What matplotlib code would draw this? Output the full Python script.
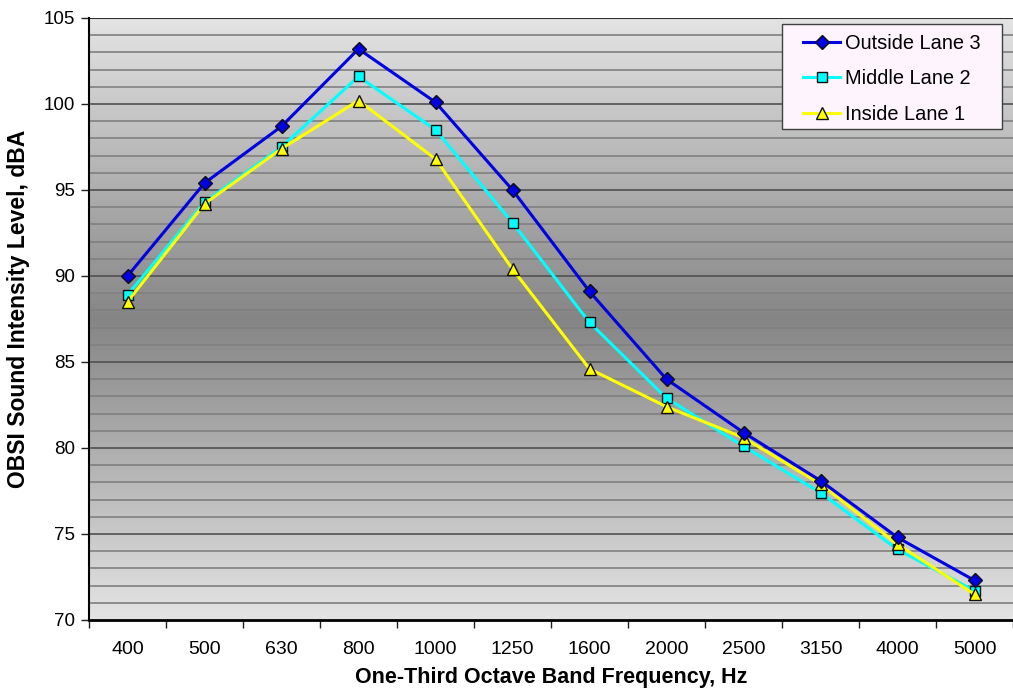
import numpy as np
import matplotlib
matplotlib.use("Agg")
import matplotlib.pyplot as plt
from matplotlib.colors import LinearSegmentedColormap
from matplotlib.patches import Rectangle

plt.rcParams['font.family'] = ['Liberation Sans', 'DejaVu Sans']

freqs = ['400', '500', '630', '800', '1000', '1250', '1600', '2000', '2500', '3150', '4000', '5000']
outside_lane3 = [90.0, 95.4, 98.7, 103.2, 100.1, 95.0, 89.1, 84.0, 80.9, 78.1, 74.8, 72.3]
middle_lane2 = [88.9, 94.3, 97.5, 101.6, 98.5, 93.1, 87.3, 82.9, 80.1, 77.4, 74.1, 71.7]
inside_lane1 = [88.5, 94.2, 97.4, 100.2, 96.8, 90.4, 84.6, 82.4, 80.6, 77.9, 74.4, 71.5]

W, H = 1013, 698
fig = plt.figure(figsize=(W / 100, H / 100), dpi=100)
ax = fig.add_axes([89 / W, 1 - 620 / H, 1 - 89 / W, (620 - 18) / H])

x = np.arange(len(freqs))
ax.set_xlim(-0.5, len(freqs) - 0.5)
ax.set_ylim(70, 105)

# gradient background, light at the edges, dark in the middle
cmap = LinearSegmentedColormap.from_list('bg', ['#e4e4e4', '#858585', '#e4e4e4'])
grad = np.linspace(0, 1, 256).reshape(-1, 1)
ax.imshow(grad, cmap=cmap, aspect='auto', extent=[-0.5, len(freqs) - 0.5, 70, 105],
          origin='upper', zorder=0)

# gridlines
for v in range(71, 105):
    if v % 5 == 0:
        ax.axhline(v, color='#505050', lw=1.2, zorder=1)
    else:
        ax.axhline(v, color='#808080', lw=1.2, zorder=1)
ax.axhline(105, color='#303030', lw=1.5, zorder=1)

ax.plot(x, outside_lane3, color='#0000e0', lw=2.2, marker='D', ms=7,
        mfc='#0000e0', mec='#101010', mew=1.0, label='Outside Lane 3', zorder=5)
ax.plot(x, middle_lane2, color='#00ffff', lw=2.2, marker='s', ms=7.5,
        mfc='#00ffff', mec='#101010', mew=1.0, label='Middle Lane 2', zorder=4)
ax.plot(x, inside_lane1, color='#ffff00', lw=2.2, marker='^', ms=8,
        mfc='#ffff00', mec='#101010', mew=1.0, label='Inside Lane 1', zorder=4)

ax.set_yticks(range(70, 106, 5))
ax.set_xticks(np.arange(-0.5, len(freqs), 1.0))
ax.set_xticklabels([])
ax.set_xticks(x, minor=True)
ax.set_xticklabels(freqs, minor=True)
ax.tick_params(axis='x', which='minor', length=0, pad=15, labelsize=14)
ax.tick_params(axis='x', which='major', length=6, width=1, color='#202020')
ax.tick_params(axis='y', length=6, width=1, labelsize=13.5, pad=4, color='#202020')

for s in ['top', 'right']:
    ax.spines[s].set_visible(False)
ax.spines['left'].set_linewidth(1.5)
ax.spines['bottom'].set_linewidth(2)
ax.spines['left'].set_zorder(6)
ax.spines['bottom'].set_zorder(6)

ax.set_xlabel('One-Third Octave Band Frequency, Hz', fontsize=15.5, fontweight='bold')
ax.set_ylabel('OBSI Sound Intensity Level, dBA', fontsize=16.5, fontweight='bold')
ax.xaxis.set_label_coords(0.5, -0.078)
ax.yaxis.set_label_coords(-0.064, 0.517)

# legend frame drawn by hand for the wider side padding
ax.add_patch(Rectangle((782 / W, 1 - 129 / H), 220 / W, 105 / H,
                       transform=fig.transFigure, facecolor='#fdf4fd',
                       edgecolor='#404040', lw=1.0, zorder=9, clip_on=False))
leg = ax.legend(loc='upper left', bbox_to_anchor=(803 / W, 1 - 34 / H),
                bbox_transform=fig.transFigure, fontsize=14.4, frameon=False,
                handlelength=1.85, borderpad=0, borderaxespad=0,
                labelspacing=0.82, handletextpad=0.25)
leg.set_zorder(10)

fig.savefig('out.png', dpi=100)
